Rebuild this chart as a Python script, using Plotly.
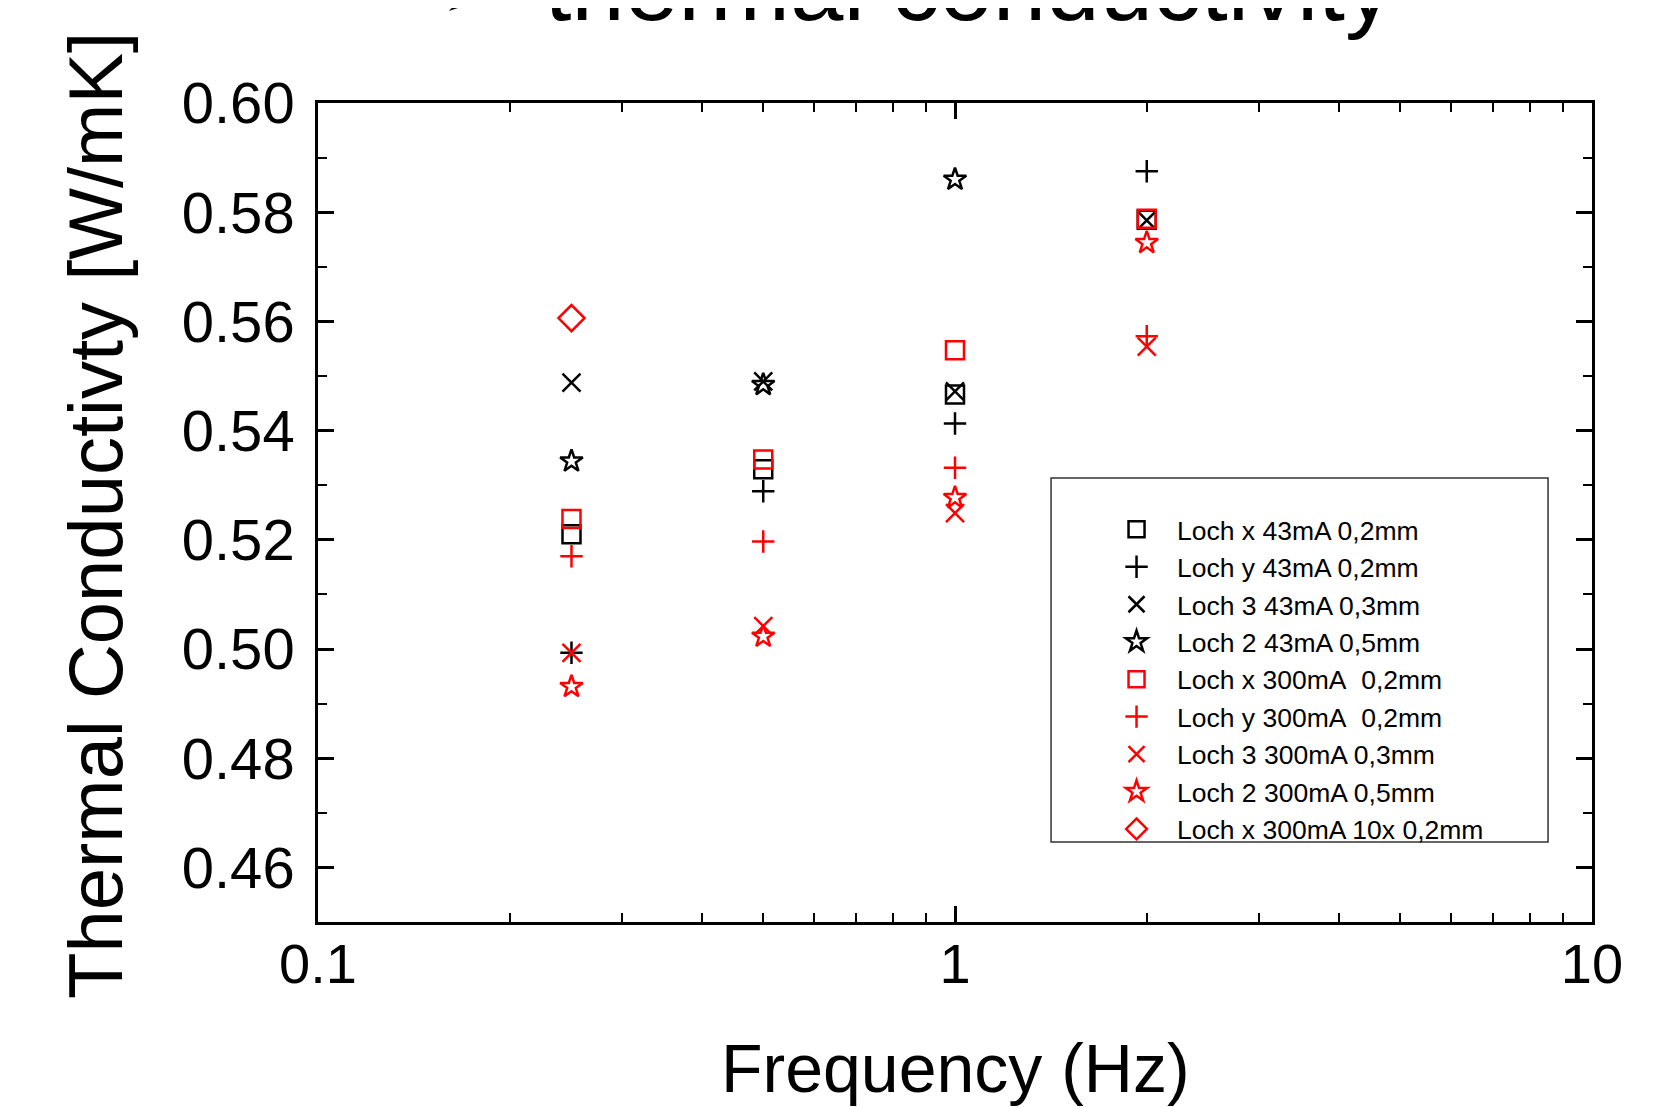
import plotly.graph_objects as go

# ---- data ----
freq = [0.25, 0.5, 1, 2]

loch_x_43 = [0.5210, 0.5329, 0.5466, 0.5786]
loch_y_43 = [0.4993, 0.5289, 0.5413, 0.5875]
loch_3_43 = [0.5488, 0.5490, 0.5472, 0.5785]
loch_2_43 = [0.5344, 0.5484, 0.5860, None]
loch_x_300 = [0.5238, 0.5347, 0.5547, 0.5788]
loch_y_300 = [0.5170, 0.5197, 0.5332, 0.5573]
loch_3_300 = [0.4993, 0.5042, 0.5249, 0.5554]
loch_2_300 = [0.4931, 0.5023, 0.5277, 0.5744]
freq_10x = [0.25]
loch_x_300_10x = [0.5606]

series_names = [
    "Loch x 43mA 0,2mm",
    "Loch y 43mA 0,2mm",
    "Loch 3 43mA 0,3mm",
    "Loch 2 43mA 0,5mm",
    "Loch x 300mA\u00a0 0,2mm",
    "Loch y 300mA\u00a0 0,2mm",
    "Loch 3 300mA 0,3mm",
    "Loch 2 300mA 0,5mm",
    "Loch x 300mA 10x 0,2mm",
]

y_tick_vals = [0.46, 0.48, 0.50, 0.52, 0.54, 0.56, 0.58, 0.60]
x_tick_vals = [0.1, 1, 10]
x_tick_text = ["0.1", "1", "10"]

BLACK = "#000000"
RED = "#ff0000"
FONT = "Liberation Sans, Arial, sans-serif"

traces = [
    (freq, loch_x_43, series_names[0], "square-open", 18, BLACK),
    (freq, loch_y_43, series_names[1], "cross-thin-open", 16, BLACK),
    (freq, loch_3_43, series_names[2], "x-thin-open", 18, BLACK),
    (freq, loch_2_43, series_names[3], "star-open", 17, BLACK),
    (freq, loch_x_300, series_names[4], "square-open", 18, RED),
    (freq, loch_y_300, series_names[5], "cross-thin-open", 16, RED),
    (freq, loch_3_300, series_names[6], "x-thin-open", 18, RED),
    (freq, loch_2_300, series_names[7], "star-open", 17, RED),
    (freq_10x, loch_x_300_10x, series_names[8], "diamond-open", 20, RED),
]

fig = go.Figure()
for xs, ys, name, sym, size, col in traces:
    fig.add_trace(go.Scatter(
        x=xs, y=ys, name=name, mode="markers",
        marker=dict(symbol=sym, size=size, color=col,
                    line=dict(color=col, width=2.5)),
    ))

axis_common = dict(
    showline=True, linecolor="black", linewidth=2.5, mirror="allticks",
    ticks="inside", ticklen=16, tickwidth=2.5, tickcolor="black",
    showgrid=False, zeroline=False,
)

fig.update_xaxes(
    type="log", range=[-1, 1],
    tickvals=x_tick_vals, ticktext=x_tick_text,
    minor=dict(ticks="inside", ticklen=9, tickwidth=2, tickcolor="black",
               dtick="D1", showgrid=False),
    ticklabelstandoff=-9,
    tickfont=dict(family=FONT, size=56, color="black"),
    **axis_common,
)
fig.update_yaxes(
    range=[0.45, 0.60],
    tickvals=y_tick_vals, tickformat=".2f",
    minor=dict(ticks="inside", ticklen=9, tickwidth=2, tickcolor="black",
               dtick=0.01, showgrid=False),
    ticklabelstandoff=9,
    tickfont=dict(family=FONT, size=58, color="black"),
    **axis_common,
)

annotations = [
    dict(text="➢ thermal conductivity", xref="paper", yref="paper",
         x=0.8454, y=1.074, xanchor="right", yanchor="bottom",
         showarrow=False, font=dict(family=FONT, size=96, color="black")),
    dict(text="Frequency (Hz)", xref="paper", yref="paper",
         x=0.5, y=-0.13, xanchor="center", yanchor="top",
         showarrow=False, font=dict(family=FONT, size=68, color="black")),
    dict(text="Thermal Conductivty [W/mK]", xref="paper", yref="paper",
         x=-0.1743, y=0.497, xanchor="center", yanchor="middle", textangle=-90,
         showarrow=False,
         font=dict(family=FONT, size=76, color="black")),
]

fig.update_layout(
    width=1664, height=1099,
    margin=dict(l=310, r=80, t=95, b=185),
    paper_bgcolor="white", plot_bgcolor="white",
    showlegend=True,
    legend=dict(x=0.6107, y=0.5084, xanchor="left", yanchor="top",
                bgcolor="rgba(0,0,0,0)", borderwidth=0, itemwidth=71,
                font=dict(family=FONT, size=26.5, color="black"),
                tracegroupgap=0),
    annotations=annotations,
    shapes=[dict(type="rect", xref="paper", yref="paper",
                 x0=0.5754, x1=0.9655, y0=0.0977, y1=0.5421,
                 line=dict(color="#333333", width=1.5),
                 fillcolor="rgba(0,0,0,0)", layer="above")],
)

fig.write_html("out.html")
